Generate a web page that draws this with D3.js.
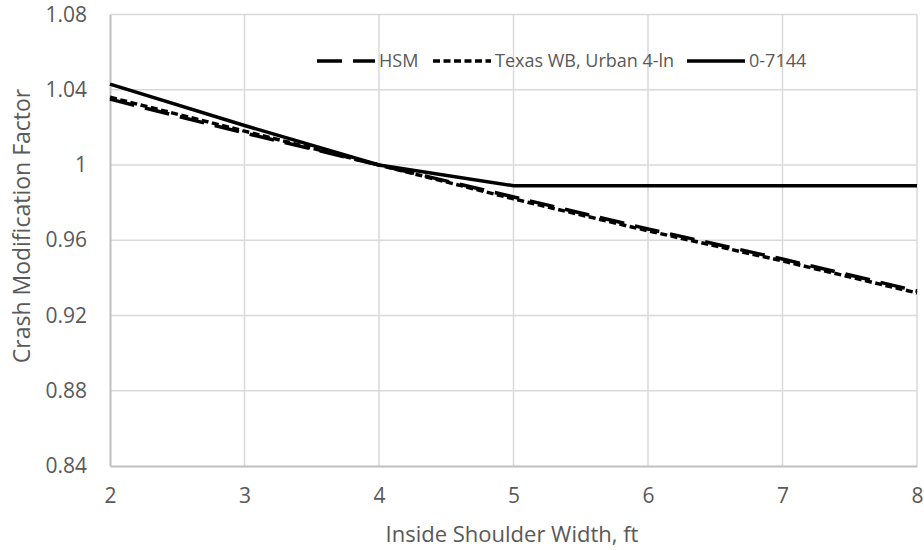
<!DOCTYPE html>
<html>
<head>
<meta charset="utf-8">
<script src="https://cdn.jsdelivr.net/npm/d3@7"></script>
<style>
  html, body { margin: 0; padding: 0; background: #fff; }
  text { font-family: "Open Sans", sans-serif; fill: #595959; }
</style>
</head>
<body>
<svg id="chart" width="924" height="550"></svg>
<script>
// Inside shoulder width (ft)
const widths = [2, 3, 4, 5, 6, 7, 8];
// Crash modification factors per method
const hsm = [1.035, 1.017, 1.000, 0.983, 0.966, 0.950, 0.933];
const texasWB = [1.036, 1.018, 1.000, 0.982, 0.965, 0.949, 0.932];
const tx7144 = [1.043, 1.021, 1.000, 0.989, 0.989, 0.989, 0.989];
const yTicks = [0.84, 0.88, 0.92, 0.96, 1, 1.04, 1.08];
const xTicks = [2, 3, 4, 5, 6, 7, 8];

const series = [
  { name: "HSM", values: hsm, dash: "25,11" },
  { name: "Texas WB, Urban 4-ln", values: texasWB, dash: "7,3.5" },
  { name: "0-7144", values: tx7144, dash: null }
];

const svg = d3.select("#chart");
const margin = { left: 110, right: 7, top: 14.5, bottom: 84 };
const W = 924, H = 550;

const x = d3.scaleLinear().domain([2, 8]).range([margin.left, W - margin.right]);
const y = d3.scaleLinear().domain([0.84, 1.08]).range([H - margin.bottom, margin.top]);

// Gridlines
const grid = svg.append("g");
grid.selectAll("line.h").data(yTicks.filter(d => d !== 0.84)).join("line")
  .attr("x1", x(2)).attr("x2", x(8))
  .attr("y1", d => y(d)).attr("y2", d => y(d))
  .attr("stroke", "#d9d9d9").attr("stroke-width", 1.5);
grid.selectAll("line.v").data(xTicks.filter(d => d !== 2)).join("line")
  .attr("x1", d => x(d)).attr("x2", d => x(d))
  .attr("y1", y(0.84)).attr("y2", y(1.08))
  .attr("stroke", "#d9d9d9").attr("stroke-width", 1.5);

// Axes
const xAxis = svg.append("g")
  .attr("transform", `translate(0,${y(0.84)})`)
  .call(d3.axisBottom(x).tickValues(xTicks).tickSize(0).tickPadding(22).tickFormat(d3.format("d")));
const yAxis = svg.append("g")
  .attr("transform", `translate(${x(2)},0)`)
  .call(d3.axisLeft(y).tickValues(yTicks).tickSize(0).tickPadding(23).tickFormat(d => d === 1 ? "1" : d3.format(".2f")(d)));
[xAxis, yAxis].forEach(a => {
  a.select(".domain").attr("stroke", "#bfbfbf").attr("stroke-width", 2);
  a.selectAll("text").style("font-size", "21px").style("fill", "#595959").style("font-family", "Open Sans");
});

// Series lines
const line = d3.line().x((d, i) => x(widths[i])).y(d => y(d));
svg.append("g").selectAll("path").data(series).join("path")
  .attr("d", d => line(d.values))
  .attr("fill", "none")
  .attr("stroke", "#000")
  .attr("stroke-width", 3.5)
  .attr("stroke-dasharray", d => d.dash);

// Legend
const legend = svg.append("g").attr("transform", "translate(0,61)");
const legendX = [317, 433, 687];
series.forEach((s, i) => {
  const g = legend.append("g").attr("transform", `translate(${legendX[i]},0)`);
  g.append("line").attr("x1", 0).attr("x2", 58).attr("y1", 0).attr("y2", 0)
    .attr("stroke", "#000").attr("stroke-width", 3.5)
    .attr("stroke-dasharray", s.dash);
  g.append("text").attr("x", 62).attr("y", 0).attr("dy", "0.35em")
    .style("font-size", "18px").text(s.name);
});

// Axis titles
svg.append("text").attr("x", 512).attr("y", 542)
  .attr("text-anchor", "middle").style("font-size", "22px").text("Inside Shoulder Width, ft");
svg.append("text").attr("transform", "translate(22,226) rotate(-90)")
  .attr("dy", "0.35em").attr("text-anchor", "middle").style("font-size", "23px")
  .text("Crash Modification Factor");
</script>
</body>
</html>
